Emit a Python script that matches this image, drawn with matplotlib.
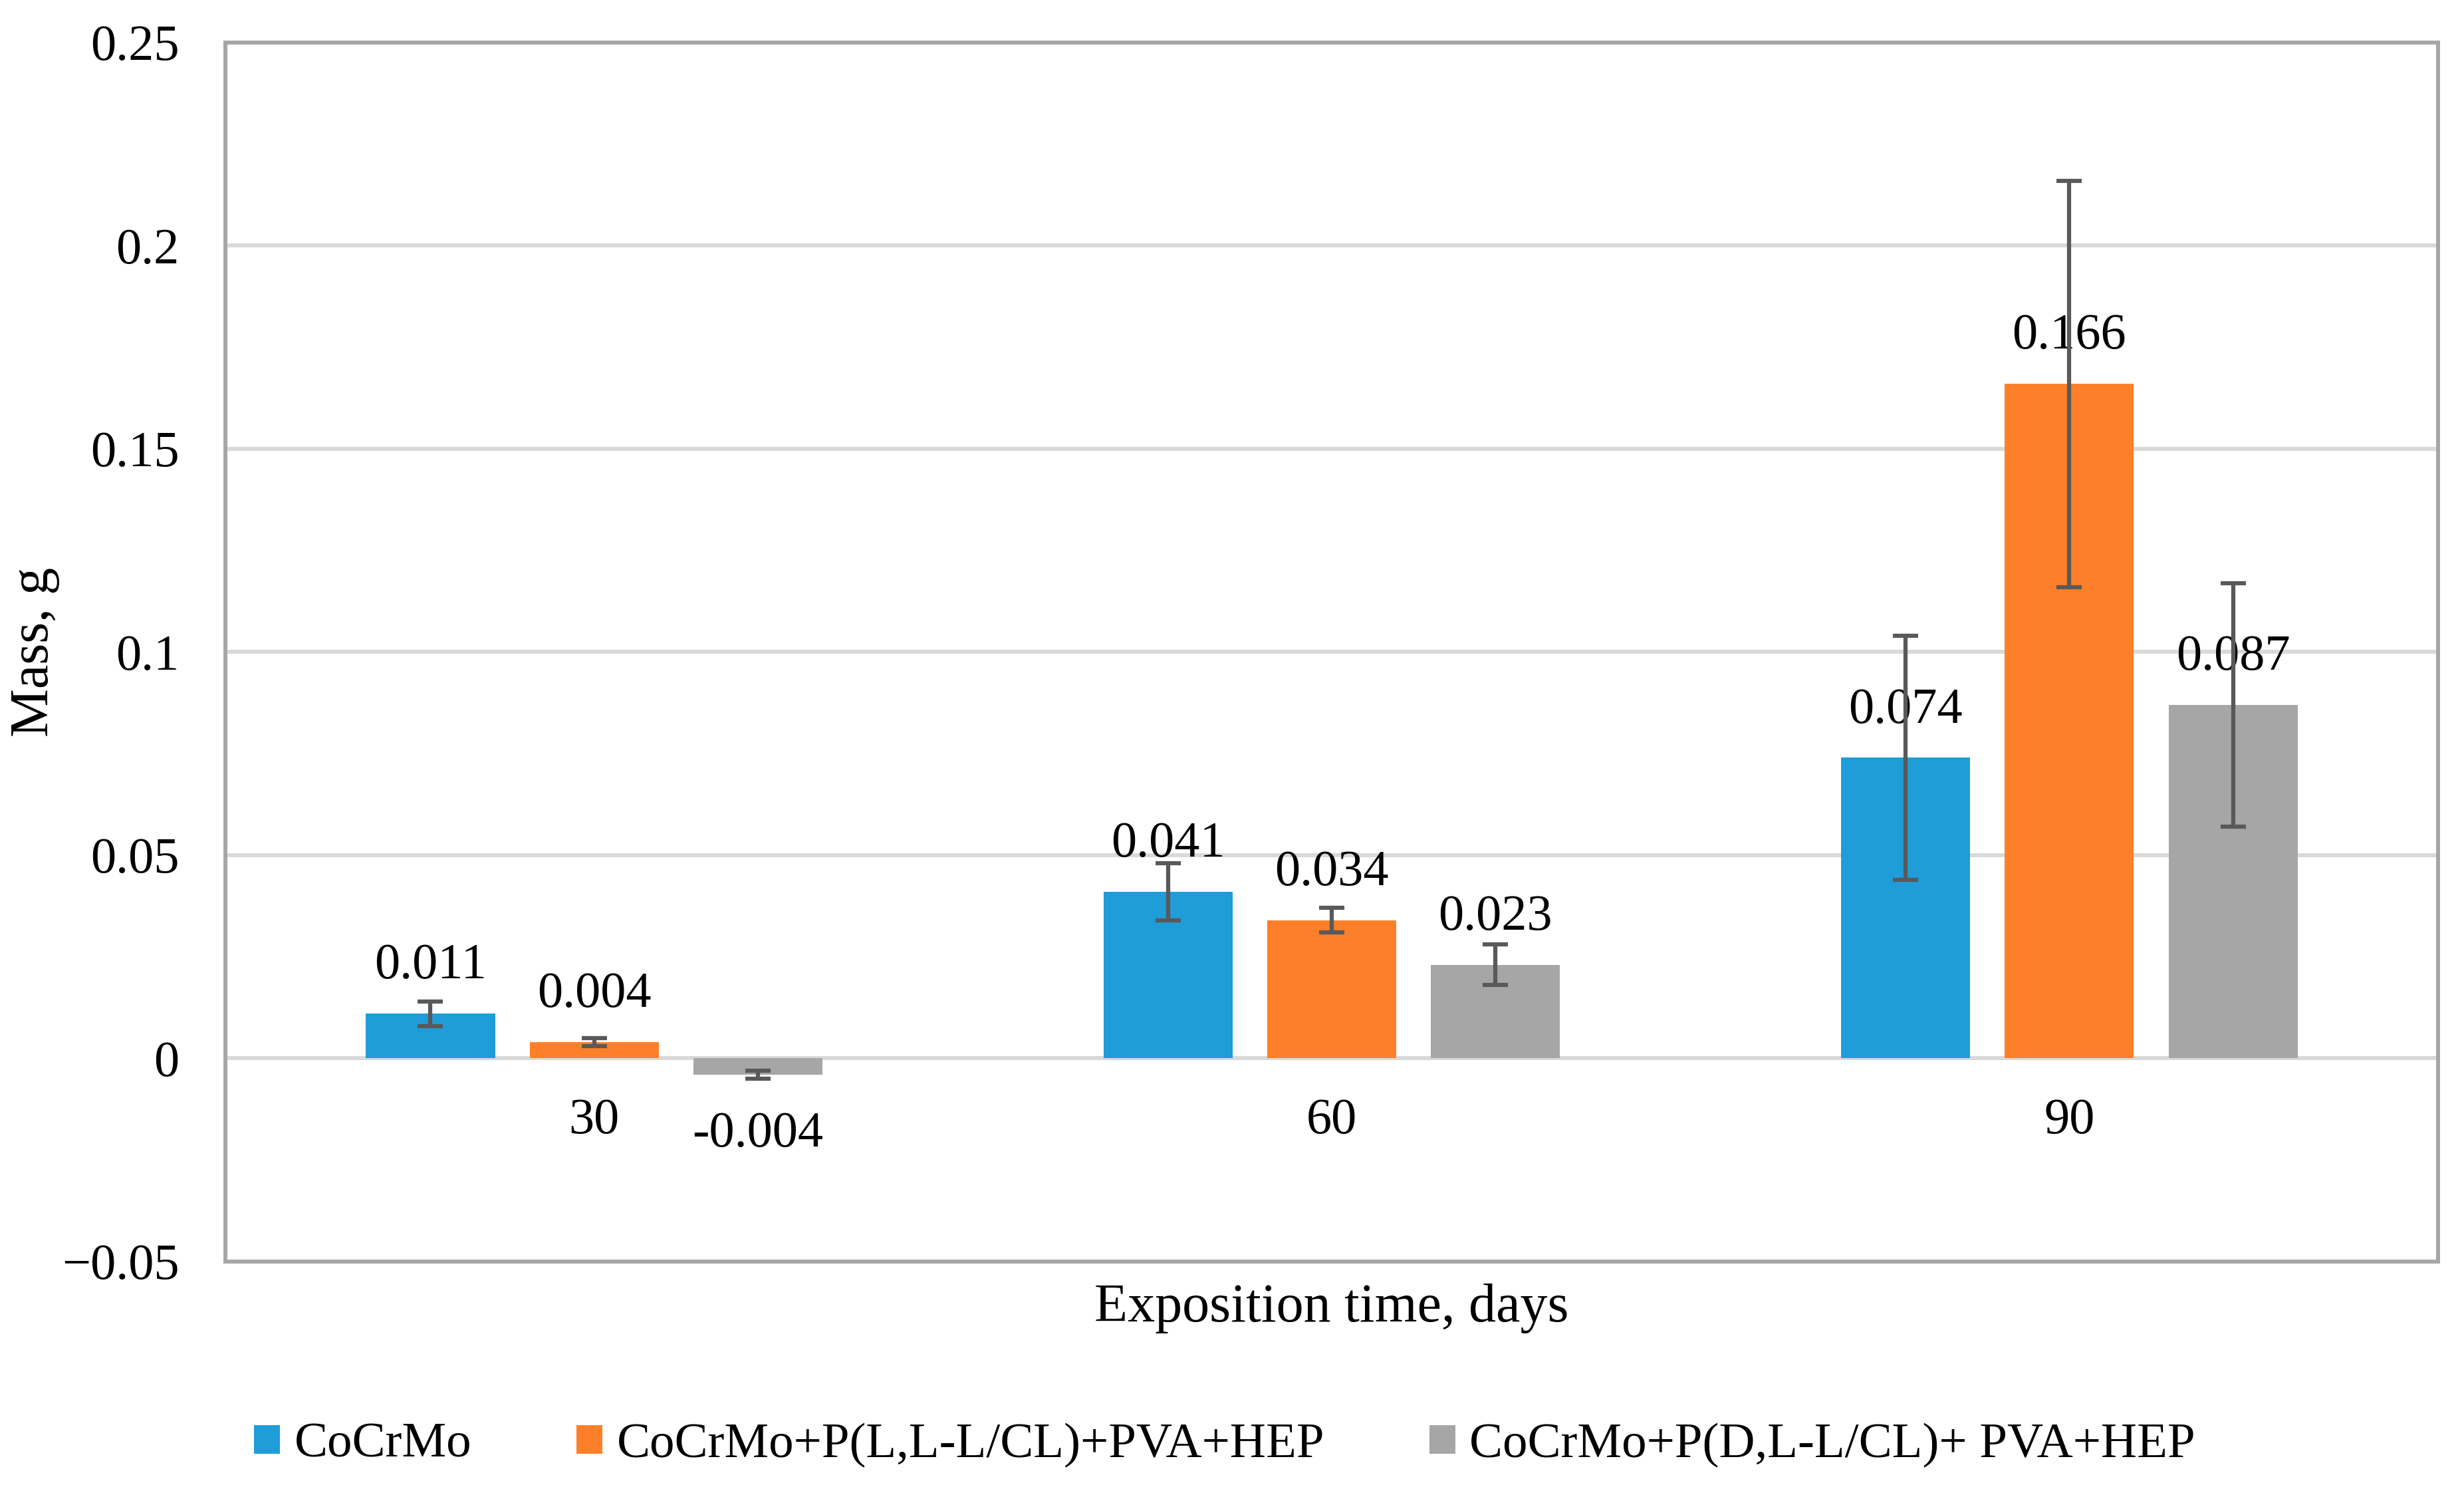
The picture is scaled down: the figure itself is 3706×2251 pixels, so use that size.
import numpy as np
import matplotlib
matplotlib.use("Agg")
import matplotlib.pyplot as plt

plt.rcParams['font.family'] = ['Liberation Serif', 'DejaVu Serif']

# data
days = ["30", "60", "90"]
series_names = ["CoCrMo", "CoCrMo+P(L,L-L/CL)+PVA+HEP", "CoCrMo+P(D,L-L/CL)+ PVA+HEP"]
cocrmo = [0.011, 0.041, 0.074]
cocrmo_lcl = [0.004, 0.034, 0.166]
cocrmo_dlcl = [-0.004, 0.023, 0.087]
err_cocrmo = [0.003, 0.007, 0.030]
err_lcl = [0.001, 0.003, 0.050]
err_dlcl = [0.001, 0.005, 0.030]
yticks = [-0.05, 0, 0.05, 0.1, 0.15, 0.2, 0.25]
ytick_labels = ["\u22120.05", "0", "0.05", "0.1", "0.15", "0.2", "0.25"]

colors = ["#1e9dd8", "#fe7f29", "#a6a6a6"]
values = [cocrmo, cocrmo_lcl, cocrmo_dlcl]
errors = [err_cocrmo, err_lcl, err_dlcl]

fs = 55
fig = plt.figure(figsize=(37.06, 22.51), dpi=100)
ax = fig.add_axes([0.0915, 0.1573, 0.8980, 0.8143])

x = np.arange(len(days))
width = 0.175
step = 0.222

for i in range(3):
    pos = x + (i - 1) * step
    ax.bar(pos, values[i], width, color=colors[i], label=series_names[i], zorder=2)
    ax.errorbar(pos, values[i], yerr=errors[i], fmt='none', ecolor='#595959',
                elinewidth=4.5, capsize=14, capthick=4.5, zorder=4)
    for p, v in zip(pos, values[i]):
        if v >= 0:
            off = 38
        else:
            off = -78
        ax.annotate(f"{v:g}", (p, v), xytext=(0, off), textcoords='offset points',
                    ha='center', va='baseline', fontsize=fs, zorder=3)

# category labels sit on the zero line like in Excel
for xi, d in zip(x, days):
    ax.annotate(d, (xi, 0), xytext=(0, -81), textcoords='offset points',
                ha='center', va='baseline', fontsize=fs)

ax.set_xlim(-0.5, 2.5)
ax.set_ylim(-0.05, 0.25)
ax.set_xticks([])
ax.set_yticks(yticks)
ax.set_yticklabels(ytick_labels, fontsize=fs)
ax.tick_params(axis='y', length=0, pad=50)
ax.yaxis.grid(True, color='#d9d9d9', linewidth=4.3)
ax.set_axisbelow(True)
for s in ax.spines.values():
    s.set_color('#a6a6a6')
    s.set_linewidth(4.3)

ax.set_xlabel("Exposition time, days", fontsize=59)
ax.xaxis.set_label_coords(0.5, -0.0491)
ax.xaxis.label.set_va('baseline')
ax.set_ylabel("Mass, g", fontsize=59)
ax.yaxis.set_label_coords(-0.0862, 0.5)
ax.yaxis.label.set_va('center')

fig.legend(loc='center', bbox_to_anchor=(0.497, 1 - 2173 / 2251), ncol=3,
           frameon=False, fontsize=54, handlelength=0.52, handleheight=0.5,
           handletextpad=0.29, columnspacing=2.1)

fig.savefig("out.png", dpi=100)
